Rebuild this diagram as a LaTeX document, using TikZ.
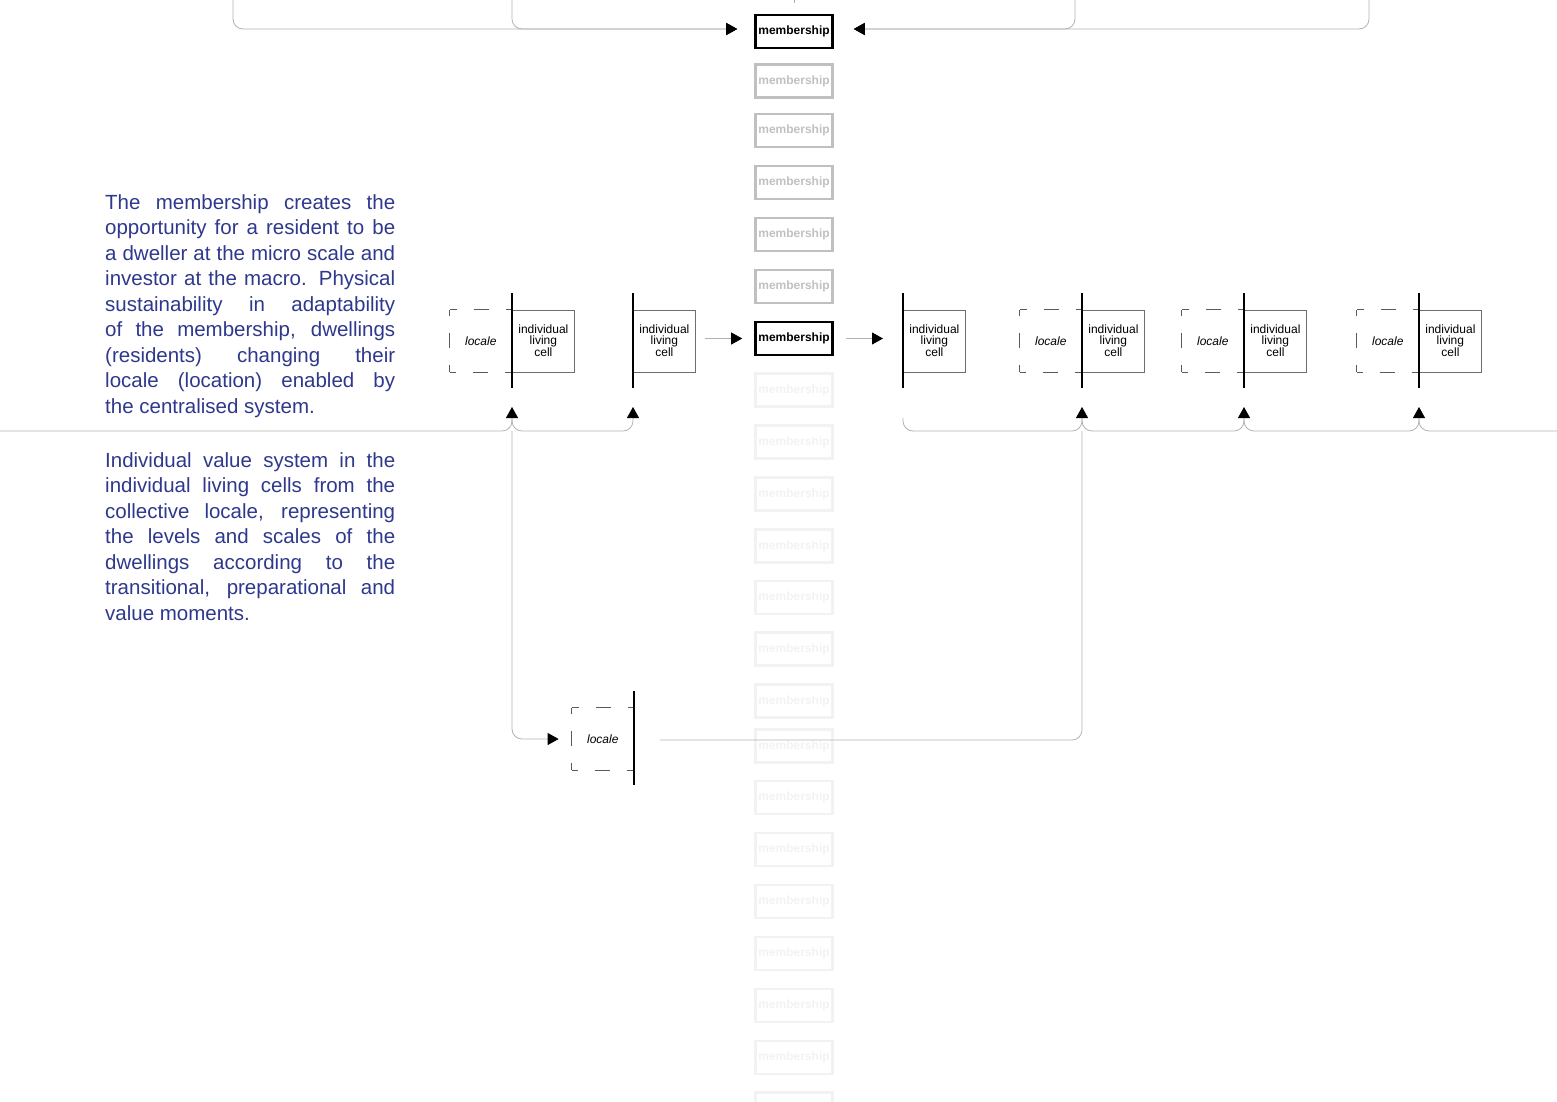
\documentclass[tikz,border=0pt]{standalone}
\usepackage{fontspec}
\setmainfont{Liberation Sans}
\usetikzlibrary{arrows.meta,calc}
\definecolor{txtblue}{RGB}{46,56,140}
\definecolor{conncol}{RGB}{178,178,178}
\definecolor{memgrey}{RGB}{192,192,192}
\definecolor{memfaint}{RGB}{242,242,242}
\definecolor{cellline}{RGB}{110,110,110}
\definecolor{dashcol}{RGB}{90,90,90}
\begin{document}
\begin{tikzpicture}[x=1pt,y=-1pt,
  conn/.style={draw=conncol, line width=0.8pt},
  tip/.style={-{Triangle[length=11pt,width=12pt,color=black]}},
  rc/.style={rounded corners=10pt},
  membox/.style={draw, line width=2.6pt, minimum width=77pt, minimum height=33pt, inner sep=0pt, font=\fontsize{12}{12}\selectfont\bfseries},
  memblack/.style={membox, draw=black, text=black},
  memg/.style={membox, draw=memgrey, text=memgrey, line width=2.2pt},
  memf/.style={membox, draw=memfaint, text=memfaint, line width=2.2pt},
  cellbox/.style={draw=cellline, line width=0.8pt, minimum width=62pt, minimum height=62pt, inner sep=0pt, align=center, font=\fontsize{12}{10.5}\selectfont},
  locbox/.style={minimum width=62pt, minimum height=62pt, inner sep=0pt, font=\fontsize{12}{14}\selectfont\itshape},
  barline/.style={line width=2.6pt, draw=black},
  dashside/.style={draw=dashcol, line width=0.8pt, dash pattern=on 15pt off 17pt, dash phase=9pt},
  para/.style={anchor=north west, inner sep=0pt, text width=290pt, align=justify, text=txtblue, font=\fontsize{20.5}{25.5}\selectfont}
]
\useasboundingbox (0,0) rectangle (1557,1101);

% membership column
\node[memblack] (m0) at (794,31.5) {membership};
\foreach \yy [count=\i] in {81,130.5,182.5,234.5,286.5}
  \node[memg] (g\i) at (794,\yy) {membership};
\node[memblack] (mm) at (794,338.5) {membership};
\foreach \yy [count=\i] in {390,442,494,546,597.5,649,701,746,797.5,849.5,901.5,953.5,1005.5,1057.5,1109}
  \node[memf] (f\i) at (794,\yy) {membership};

% cells
\node[cellbox, anchor=west] (c1) at (512,341) {individual\\living\\cell};
\node[locbox, anchor=east] (l1) at (512,341) {locale};
\node[cellbox, anchor=west] (c2) at (633,341) {individual\\living\\cell};
\node[cellbox, anchor=west] (c3) at (903,341) {individual\\living\\cell};
\node[cellbox, anchor=west] (c4) at (1082,341) {individual\\living\\cell};
\node[locbox, anchor=east] (l4) at (1082,341) {locale};
\node[cellbox, anchor=west] (c5) at (1244,341) {individual\\living\\cell};
\node[locbox, anchor=east] (l5) at (1244,341) {locale};
\node[cellbox, anchor=west] (c6) at (1419,341) {individual\\living\\cell};
\node[locbox, anchor=east] (l6) at (1419,341) {locale};
\node[locbox, anchor=east] (lb) at (634,739) {locale};

% dashed locale outlines
\foreach \n in {l1,l4,l5,l6,lb}{
  \draw[dashside] (\n.north east) -- (\n.north west);
  \draw[dashside] (\n.north west) -- (\n.south west);
  \draw[dashside] (\n.south west) -- (\n.south east);
}

% bars
\foreach \n in {c1,c2,c3,c4,c5,c6}
  \draw[barline] ($(\n.west)+(0,-48)$) -- ($(\n.west)+(0,47)$);
\draw[barline] ($(lb.east)+(0,-48)$) -- ($(lb.east)+(0,46)$);

% top connectors
\coordinate (tl1) at (233,0);
\coordinate (tl2) at (512,0);
\coordinate (tr1) at (1369,0);
\coordinate (tr2) at (1075,0);
\coordinate (tt) at (794,0);
\coordinate (ttb) at (794,3);
\draw[conn, tip, rc, shorten >=17pt] (tl1) |- ([yshift=2.5pt]m0.west);
\draw[conn, tip, rc, shorten >=17pt] (tl2) |- ([yshift=2.5pt]m0.west);
\draw[conn, tip, rc, shorten >=20pt] (tr1) |- ([yshift=2.5pt]m0.east);
\draw[conn, tip, rc, shorten >=20pt] (tr2) |- ([yshift=2.5pt]m0.east);
\draw[conn] (tt) -- (ttb);

% middle arrows
\draw[conn, tip, shorten <=9pt, shorten >=12pt] (c2.east |- mm.west) -- (mm.west);
\draw[conn, tip, shorten <=12pt, shorten >=20pt] (mm.east) -- (c3.west |- mm.east);

% lower braces (left)
\coordinate (le) at (0,431);
\draw[conn, tip, rc] (le) -| ($(c1.west)+(0,66)$);
\draw[conn, tip, rc] ($(c1.west)+(0,77)$) |- ($(c2.west)+(0,90)$) -- ($(c2.west)+(0,66)$);
\draw[conn, tip, rc, shorten >=13pt] ($(c1.west)+(0,90)$) |- (lb.west);

% lower braces (right)
\draw[conn, tip, rc] ($(c3.west)+(0,77)$) |- ($(c4.west)+(0,90)$) -- ($(c4.west)+(0,66)$);
\draw[conn, tip, rc] ($(c4.west)+(0,77)$) |- ($(c5.west)+(0,90)$) -- ($(c5.west)+(0,66)$);
\draw[conn, tip, rc] ($(c5.west)+(0,77)$) |- ($(c6.west)+(0,90)$) -- ($(c6.west)+(0,66)$);
\coordinate (re) at (1557,431);
\draw[conn, rc] ($(c6.west)+(0,77)$) |- (re);
\coordinate (lend) at (660,740);
\draw[conn, rc] ($(c4.west)+(0,90)$) |- (lend);

% text
\node[para] (p1) at (105,194) {\hyphenpenalty=10000 \tolerance=10000 The membership creates the\linebreak
opportunity for a resident to be\linebreak
a dweller at the micro scale and\linebreak
investor at the macro. Physical\linebreak
sustainability in adaptability\linebreak
of the membership, dwellings\linebreak
(residents) changing their\linebreak
locale (location) enabled by\linebreak
the centralised system.};
\node[para] (p2) at (105,452) {\hyphenpenalty=10000 \tolerance=10000 Individual value system in the\linebreak
individual living cells from the\linebreak
collective locale, representing\linebreak
the levels and scales of the\linebreak
dwellings according to the\linebreak
transitional, preparational and\linebreak
value moments.};
\end{tikzpicture}
\end{document}
